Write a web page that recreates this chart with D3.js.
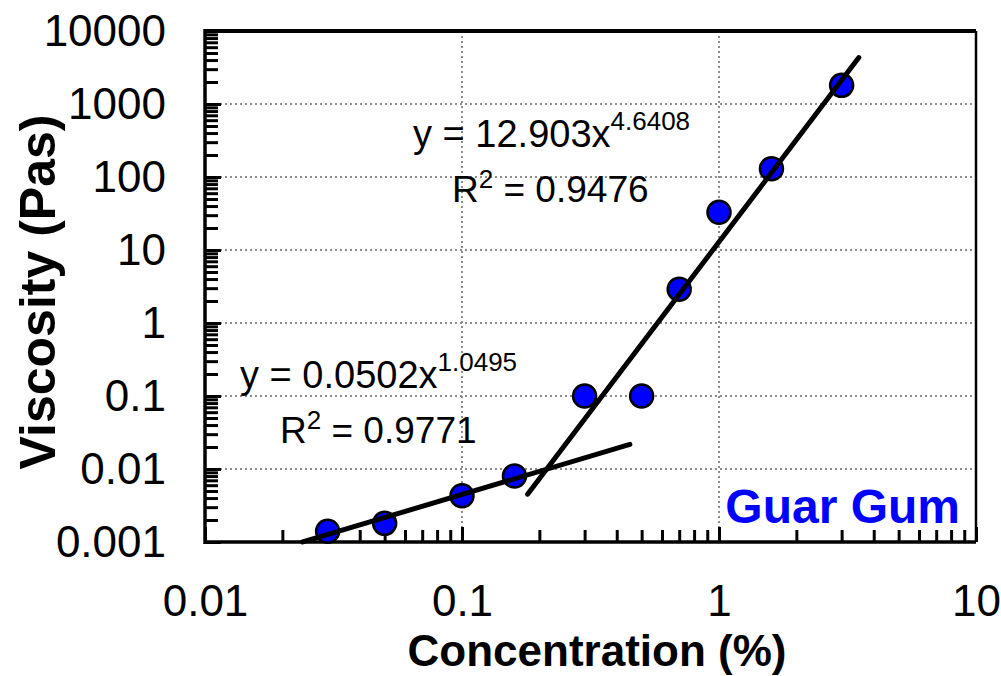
<!DOCTYPE html>
<html>
<head>
<meta charset="utf-8">
<script src="https://cdn.jsdelivr.net/npm/d3@7"></script>
<style>
  body { margin: 0; background: #fff; }
  svg { display: block; font-family: "Liberation Sans", Arial, sans-serif; }
</style>
</head>
<body>
<div id="chart"></div>
<script>
// Measured points (concentration %, viscosity Pa.s)
const concentration = [0.03, 0.05, 0.1, 0.16, 0.3, 0.5, 0.7, 1.0, 1.6, 3.0];
const viscosity = [0.0014, 0.0018, 0.0043, 0.008, 0.1, 0.1, 2.9, 33, 130, 1800];

// Power-law trendlines y = a * x^b, drawn over the x range shown
const trendCoef = [0.0502, 12.903];
const trendExp = [1.0495, 4.6408];
const trendFrom = [0.024, 0.18];
const trendTo = [0.45, 3.5];

// Tick labels
const xTickValues = [0.01, 0.1, 1, 10];
const xTickLabels = ["0.01", "0.1", "1", "10"];
const yTickValues = [0.001, 0.01, 0.1, 1, 10, 100, 1000, 10000];
const yTickLabels = ["0.001", "0.01", "0.1", "1", "10", "100", "1000", "10000"];

const width = 1001, height = 676;
const plotLeft = 205, plotRight = 976, plotTop = 31, plotBottom = 542;

const svg = d3.select("#chart").append("svg")
    .attr("width", width)
    .attr("height", height);

const x = d3.scaleLog().domain([0.01, 10]).range([plotLeft, plotRight]);
const y = d3.scaleLog().domain([0.001, 10000]).range([plotBottom, plotTop]);

// minor ticks 2..9 in each decade
const minorX = [], minorY = [];
for (let d = 0.01; d < 10; d *= 10)
  for (let k = 2; k <= 9; k++) minorX.push(d * k);
for (let d = 0.001; d < 10000; d *= 10)
  for (let k = 2; k <= 9; k++) minorY.push(d * k);

// gridlines (dotted)
const grid = svg.append("g")
    .attr("stroke", "#8c8c8c")
    .attr("stroke-width", 2)
    .attr("stroke-dasharray", "2,3");
grid.selectAll("line.gy")
    .data(yTickValues.slice(1, -1))
    .enter().append("line")
    .attr("x1", plotLeft).attr("x2", plotRight)
    .attr("y1", d => y(d)).attr("y2", d => y(d));
grid.selectAll("line.gx")
    .data(xTickValues.slice(1, -1))
    .enter().append("line")
    .attr("x1", d => x(d)).attr("x2", d => x(d))
    .attr("y1", plotTop).attr("y2", plotBottom);

// axes: ticks point into the plot
const yMinor = svg.append("g").attr("transform", `translate(${plotLeft},0)`)
    .call(d3.axisLeft(y).tickValues(minorY).tickSize(-13).tickFormat(""));
const yMajor = svg.append("g").attr("transform", `translate(${plotLeft},0)`)
    .call(d3.axisLeft(y).tickValues(yTickValues).tickSize(-16).tickPadding(39)
      .tickFormat((d, i) => yTickLabels[i]));
const xMinor = svg.append("g").attr("transform", `translate(0,${plotBottom})`)
    .call(d3.axisBottom(x).tickValues(minorX).tickSize(-12).tickFormat(""));
const xMajor = svg.append("g").attr("transform", `translate(0,${plotBottom})`)
    .call(d3.axisBottom(x).tickValues(xTickValues).tickSize(-15).tickPadding(43)
      .tickFormat((d, i) => xTickLabels[i]));

[yMinor, yMajor, xMinor, xMajor].forEach(g => {
  g.select(".domain").remove();
  g.selectAll(".tick line").attr("stroke", "#000").attr("stroke-width", 3);
  g.selectAll(".tick text")
    .attr("fill", "#000")
    .style("font-size", "44px")
    .style("font-family", "'Liberation Sans', Arial, sans-serif");
});

// plot frame
svg.append("line").attr("x1", plotLeft).attr("x2", plotRight).attr("y1", plotTop).attr("y2", plotTop)
    .attr("stroke", "#000").attr("stroke-width", 4);
svg.append("line").attr("x1", plotRight).attr("x2", plotRight).attr("y1", plotTop).attr("y2", plotBottom)
    .attr("stroke", "#000").attr("stroke-width", 2.5);
svg.append("line").attr("x1", plotLeft).attr("x2", plotRight).attr("y1", plotBottom).attr("y2", plotBottom)
    .attr("stroke", "#000").attr("stroke-width", 3.5);
svg.append("line").attr("x1", plotLeft).attr("x2", plotLeft).attr("y1", plotTop - 2).attr("y2", plotBottom + 2)
    .attr("stroke", "#000").attr("stroke-width", 3.5);

// data markers
svg.selectAll("circle.pt")
    .data(concentration)
    .enter().append("circle")
    .attr("class", "pt")
    .attr("cx", d => x(d))
    .attr("cy", (d, i) => y(viscosity[i]))
    .attr("r", 11.5)
    .attr("fill", "#0000ff")
    .attr("stroke", "#000")
    .attr("stroke-width", 2.5);

// trendlines drawn on top of markers
const line = d3.line().x(d => x(d[0])).y(d => y(d[1]));
trendCoef.forEach((a, i) => {
  const b = trendExp[i];
  const pts = [trendFrom[i], trendTo[i]].map(c => [c, a * Math.pow(c, b)]);
  svg.append("path")
    .attr("d", line(pts))
    .attr("fill", "none")
    .attr("stroke", "#000")
    .attr("stroke-width", 5)
    .attr("stroke-linecap", "round");
});

// equation labels
function equation(x0, y0, main, sup) {
  const t = svg.append("text").attr("x", x0).attr("y", y0)
      .style("font-size", "38px").attr("fill", "#000");
  t.append("tspan").text(main);
  t.append("tspan").attr("dy", -17).style("font-size", "26px").text(sup);
}
function rsq(x0, y0, val) {
  const t = svg.append("text").attr("x", x0).attr("y", y0)
      .style("font-size", "37px").attr("fill", "#000");
  t.append("tspan").text("R");
  t.append("tspan").attr("dy", -14).style("font-size", "26px").text("2");
  t.append("tspan").attr("dy", 14).text(" = " + val);
}
equation(413, 147, "y = 12.903x", "4.6408");
rsq(452, 202, "0.9476");
equation(240, 388, "y = 0.0502x", "1.0495");
rsq(280, 443, "0.9771");

// series label
svg.append("text")
    .attr("x", 960).attr("y", 523)
    .attr("text-anchor", "end")
    .attr("fill", "#0000ff")
    .style("font-size", "48px")
    .style("font-weight", "bold")
    .text("Guar Gum");

// axis titles
svg.append("text")
    .attr("x", 597).attr("y", 666)
    .attr("text-anchor", "middle")
    .style("font-size", "44px")
    .style("font-weight", "bold")
    .text("Concentration (%)");
svg.append("text")
    .attr("transform", "translate(55,292) rotate(-90)")
    .attr("text-anchor", "middle")
    .style("font-size", "50px")
    .style("font-weight", "bold")
    .text("Viscosity (Pas)");
</script>
</body>
</html>
